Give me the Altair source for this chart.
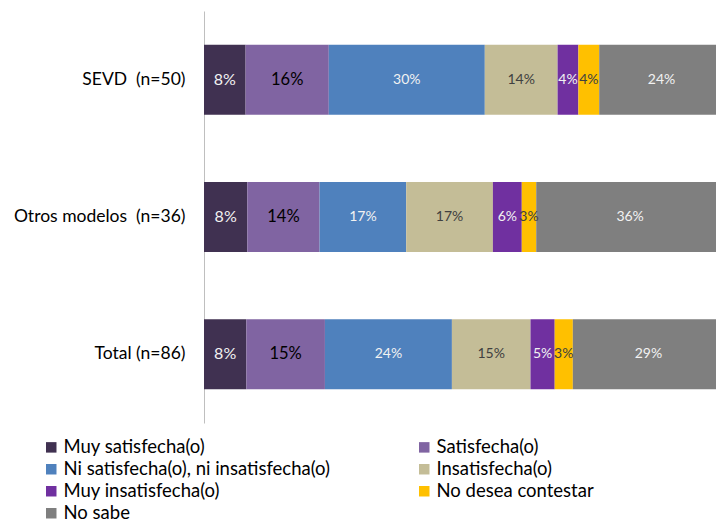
import altair as alt
import pandas as pd

# ---- data (counts per respondent group; labels show the rounded share) ----
groups = ["SEVD\u00a0 (n=50)", "Otros modelos\u00a0 (n=36)", "Total (n=86)"]
categories = [
    "Muy satisfecha(o)",
    "Satisfecha(o)",
    "Ni satisfecha(o), ni insatisfecha(o)",
    "Insatisfecha(o)",
    "Muy insatisfecha(o)",
    "No desea contestar",
    "No sabe",
]
sevd_counts = [4, 8, 15, 7, 2, 2, 12]
otros_counts = [3, 5, 6, 6, 2, 1, 13]
total_counts = [7, 13, 21, 13, 4, 3, 25]

# ---- styles ----
bar_colors = ["#403151", "#8064A2", "#4F81BD", "#C4BD97", "#7030A0", "#FFC000", "#7F7F7F"]
label_colors = ["#F2F2F2", "#000000", "#F2F2F2", "#404040", "#F2F2F2", "#404040", "#F2F2F2"]
label_sizes = [16, 16.5, 14, 14, 14, 14, 14]

rows = []
for g, counts in zip(groups, [sevd_counts, otros_counts, total_counts]):
    for i, (c, v) in enumerate(zip(categories, counts)):
        rows.append({"grupo": g, "cat": c, "orden": i, "n": v,
                     "tcolor": label_colors[i], "tsize": label_sizes[i]})
df = pd.DataFrame(rows)

FONT = "Lato"

base = alt.Chart(df).transform_stack(
    stack="n", groupby=["grupo"], as_=["x0", "x1"],
    offset="normalize", sort=[alt.SortField("orden", order="ascending")]
).transform_calculate(
    mid="(datum.x0 + datum.x1) / 2",
    lbl="format(datum.x1 - datum.x0, '.0%')",
)

yenc = alt.Y("grupo:N", sort=groups, title=None,
             scale=alt.Scale(paddingInner=0.49, paddingOuter=0.245),
             axis=alt.Axis(ticks=False, domainColor="#BFBFBF", domainWidth=1,
                           labelFont=FONT, labelFontSize=17.5, labelColor="#000000",
                           labelPadding=19, labelLimit=300))

xscale = alt.Scale(domain=[0, 1], nice=False, zero=True)

bars = base.mark_bar().encode(
    x=alt.X("x0:Q", scale=xscale, axis=None),
    x2="x1:Q",
    y=yenc,
    color=alt.Color("cat:N", sort=categories,
                    scale=alt.Scale(domain=categories, range=bar_colors),
                    legend=alt.Legend(title=None, orient="none", legendX=-162, legendY=427,
                                      direction="horizontal",
                                      columns=2, columnPadding=85, rowPadding=3,
                                      symbolType="square", symbolSize=110,
                                      symbolStrokeWidth=0, labelOffset=3,
                                      labelFont=FONT, labelFontSize=18.5,
                                      labelColor="#000000", labelLimit=400)),
)

texts = base.mark_text(font=FONT, baseline="middle", align="center").encode(
    x=alt.X("mid:Q", scale=xscale, axis=None),
    y=alt.Y("grupo:N", sort=groups),
    text="lbl:N",
    color=alt.Color("tcolor:N", scale=None),
    size=alt.Size("tsize:Q", scale=None),
)

chart = alt.layer(bars, texts).resolve_scale(color="independent").properties(
    width=520, height=412,
    autosize=alt.AutoSizeParams(type="none"),
    padding={"left": 196, "top": 3, "right": -8, "bottom": 102},
).configure_view(stroke=None)

chart.save("out.html", embed_options={"renderer": "svg", "actions": False})
